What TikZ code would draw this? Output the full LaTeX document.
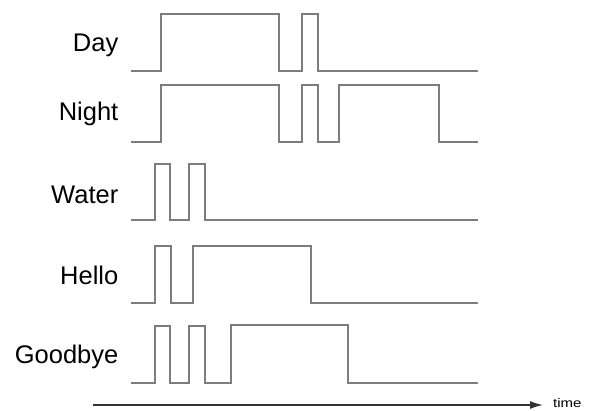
\documentclass[tikz,border=0pt]{standalone}
\usepackage{fontspec}
\setmainfont{Liberation Sans}
\usetikzlibrary{arrows.meta}
\definecolor{wave}{RGB}{125,125,125}
\definecolor{axisc}{RGB}{50,50,50}
\begin{document}
\begin{tikzpicture}[x=1pt,y=-1pt,
  sig/.style={draw=wave,line width=1.5pt,line join=miter},
  lab/.style={anchor=base east,font=\fontsize{25.5}{29}\selectfont,inner sep=0pt},
  axisline/.style={draw=axisc,line width=1.3pt,-{Latex[length=13pt,width=8pt]}}]
\useasboundingbox[fill=white] (0,0) rectangle (589,410);
% labels
\node[lab] (day) at (118.5,51) {Day};
\node[lab] (night) at (118.5,120.5) {Night};
\node[lab] (water) at (118.5,203) {Water};
\node[lab] (hello) at (118.5,284) {Hello};
\node[lab] (goodbye) at (118.5,363) {Goodbye};
% Day: high 14, low 71
\draw[sig] (131,71) -- (161,71) -- (161,14) -- (279,14) -- (279,71) -- (302,71) -- (302,14) -- (318,14) -- (318,71) -- (478,71);
% Night: high 85, low 142
\draw[sig] (131,142) -- (161,142) -- (161,85) -- (279,85) -- (279,142) -- (302,142) -- (302,85) -- (318,85) -- (318,142) -- (339,142) -- (339,85) -- (439,85) -- (439,142) -- (478,142);
% Water: high 164, low 220
\draw[sig] (131,220) -- (155,220) -- (155,164) -- (170,164) -- (170,220) -- (189,220) -- (189,164) -- (205,164) -- (205,220) -- (478,220);
% Hello: high 246, low 303
\draw[sig] (131,303) -- (155,303) -- (155,246) -- (171,246) -- (171,303) -- (193,303) -- (193,246) -- (311,246) -- (311,303) -- (478,303);
% Goodbye: high 326, low 383
\draw[sig] (131,383) -- (155,383) -- (155,326) -- (170,326) -- (170,383) -- (189,383) -- (189,326) -- (205,326) -- (205,383) -- (231,383) -- (231,325) -- (348,325) -- (348,383) -- (478,383);
% time axis
\coordinate (tstart) at (93,405);
\coordinate (tend) at (543,405);
\draw[axisline] (tstart) -- (tend);
\node[anchor=base west,inner sep=0pt,font=\fontsize{12.5}{14}\selectfont] (time) at (553,407.5) {\scalebox{1.2}[1]{time}};
\end{tikzpicture}
\end{document}
